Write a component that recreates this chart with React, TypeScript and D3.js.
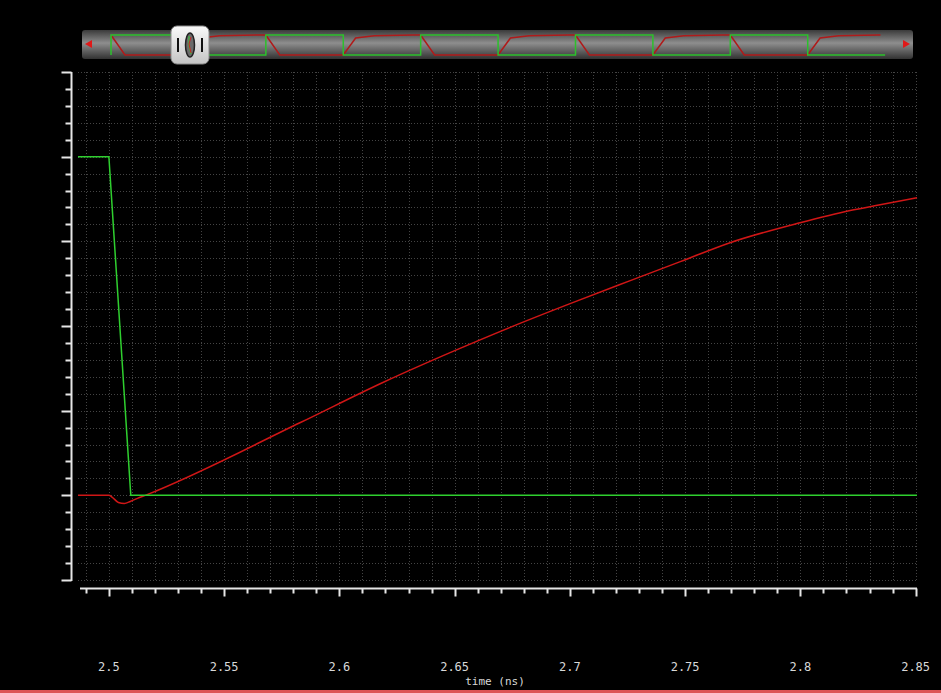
import React, { useEffect, useRef } from 'react';
import * as d3 from 'd3';

// main view, time in ns, voltage in V
const greenTime = [2.4866, 2.5, 2.5095, 2.8506];
const greenVolt = [1, 1, 0, 0];

const redTime = [2.4866, 2.5, 2.5015, 2.5041, 2.5067, 2.5093, 2.5124, 2.5158, 2.5831, 2.6191, 2.6503, 2.6741, 2.7001, 2.7262, 2.7479, 2.7695, 2.7999, 2.8216, 2.8346, 2.8506];
const redVolt = [0, 0, -0.006, -0.021, -0.024, -0.018, -0.009, 0, 0.215, 0.334, 0.428, 0.496, 0.566, 0.634, 0.69, 0.746, 0.805, 0.841, 0.858, 0.879];

const xTickLabels = ['2.5', '2.55', '2.6', '2.65', '2.7', '2.75', '2.8', '2.85'];

// overview strip at the top: green edge times (ns) and level after each edge
const ovEdges = [2.0, 2.5, 3.0, 3.5, 4.0, 4.5, 5.0, 5.5, 6.0, 6.5];
const ovLevels = [1, 0, 1, 0, 1, 0, 1, 0, 1, 0];
const ovEnd = 7.0;

const WaveView = () => {
  const chartRef = useRef<SVGSVGElement>(null);

  useEffect(() => {
    document.body.style.margin = '0';
    document.body.style.background = '#000';

    const width = 941;
    const height = 693;

    const svg = d3.select(chartRef.current)
      .attr('width', width)
      .attr('height', height);

    svg.append('rect').attr('width', width).attr('height', height).attr('fill', '#000');

    const x = d3.scaleLinear().domain([2.4866, 2.8506]).range([78, 917]);
    const y = d3.scaleLinear().domain([-0.25, 1.25]).range([580, 72]);

    // dotted grid
    const grid = svg.append('g')
      .attr('stroke', '#444')
      .attr('stroke-width', 1)
      .attr('stroke-dasharray', '1,2');

    grid.selectAll('line.v')
      .data(x.ticks(40))
      .enter()
      .append('line')
      .attr('x1', d => Math.round(x(d)) + 0.5)
      .attr('x2', d => Math.round(x(d)) + 0.5)
      .attr('y1', y(1.25))
      .attr('y2', y(-0.25));

    grid.selectAll('line.h')
      .data(y.ticks(30))
      .enter()
      .append('line')
      .attr('x1', x.range()[0])
      .attr('x2', x.range()[1])
      .attr('y1', d => Math.round(y(d)) + 0.5)
      .attr('y2', d => Math.round(y(d)) + 0.5);

    // left axis
    const axisColor = '#e6e6e6';
    const leftX = 71.5;
    svg.append('line')
      .attr('x1', leftX).attr('x2', leftX)
      .attr('y1', y(1.25)).attr('y2', y(-0.25) + 1)
      .attr('stroke', axisColor).attr('stroke-width', 2);

    const isMajorY = (v: number) => Math.abs(v / 0.25 - Math.round(v / 0.25)) < 1e-6;
    svg.append('g')
      .selectAll('line')
      .data(y.ticks(30))
      .enter()
      .append('line')
      .attr('x1', d => leftX - (isMajorY(d) ? 10 : 6))
      .attr('x2', leftX)
      .attr('y1', d => Math.round(y(d)) + 0.5)
      .attr('y2', d => Math.round(y(d)) + 0.5)
      .attr('stroke', axisColor)
      .attr('stroke-width', 2);

    // bottom axis
    const axisY = 588.5;
    svg.append('line')
      .attr('x1', 80).attr('x2', x.range()[1])
      .attr('y1', axisY).attr('y2', axisY)
      .attr('stroke', axisColor).attr('stroke-width', 2);

    const xMajor = xTickLabels.map(Number);
    const isMajorX = (v: number) => xMajor.some(m => Math.abs(m - v) < 1e-6);
    svg.append('g')
      .selectAll('line')
      .data(x.ticks(40))
      .enter()
      .append('line')
      .attr('x1', d => Math.round(x(d)) + 0.5)
      .attr('x2', d => Math.round(x(d)) + 0.5)
      .attr('y1', axisY)
      .attr('y2', d => axisY + (isMajorX(d) ? 8 : 5))
      .attr('stroke', axisColor)
      .attr('stroke-width', 2);

    svg.append('g')
      .selectAll('text')
      .data(xTickLabels)
      .enter()
      .append('text')
      .attr('x', d => x(Number(d)))
      .attr('y', 671)
      .attr('text-anchor', 'middle')
      .attr('font-family', 'DejaVu Sans Mono, monospace')
      .attr('font-size', 12)
      .attr('fill', '#d8d8d8')
      .text(d => d);

    svg.append('text')
      .attr('x', 495)
      .attr('y', 685)
      .attr('text-anchor', 'middle')
      .attr('font-family', 'DejaVu Sans Mono, monospace')
      .attr('font-size', 11)
      .attr('fill', '#d8d8d8')
      .text('time (ns)');

    // waveforms
    const line = d3.line<[number, number]>()
      .x(d => x(d[0]))
      .y(d => y(d[1]));

    svg.append('path')
      .datum(redTime.map((t, i) => [t, redVolt[i]] as [number, number]))
      .attr('d', line.curve(d3.curveMonotoneX))
      .attr('fill', 'none')
      .attr('stroke', '#d01616')
      .attr('stroke-width', 1.5);

    svg.append('path')
      .datum(greenTime.map((t, i) => [t, greenVolt[i]] as [number, number]))
      .attr('d', line.curve(d3.curveLinear))
      .attr('fill', 'none')
      .attr('stroke', '#2fcf2f')
      .attr('stroke-width', 1.5);

    // overview scroll strip
    const defs = svg.append('defs');
    const barGrad = defs.append('linearGradient')
      .attr('id', 'barGrad').attr('x1', 0).attr('x2', 0).attr('y1', 0).attr('y2', 1);
    barGrad.append('stop').attr('offset', '0%').attr('stop-color', '#3a3a3a');
    barGrad.append('stop').attr('offset', '45%').attr('stop-color', '#8e8e8e');
    barGrad.append('stop').attr('offset', '100%').attr('stop-color', '#323232');

    const thumbGrad = defs.append('linearGradient')
      .attr('id', 'thumbGrad').attr('x1', 0).attr('x2', 0).attr('y1', 0).attr('y2', 1);
    thumbGrad.append('stop').attr('offset', '0%').attr('stop-color', '#fafafa');
    thumbGrad.append('stop').attr('offset', '100%').attr('stop-color', '#c4c4c4');

    const ox = d3.scaleLinear().domain([1.8125, 7.18]).range([82, 913]);
    const oy = d3.scaleLinear().domain([0, 1]).range([55, 35]);

    svg.append('rect')
      .attr('x', 82).attr('y', 30).attr('width', 831).attr('height', 29)
      .attr('rx', 3)
      .attr('fill', 'url(#barGrad)');

    // arrows
    svg.append('path').attr('d', 'M85,44 L92,40 L92,48 Z').attr('fill', '#e01818');
    svg.append('path').attr('d', 'M910,44 L903,40 L903,48 Z').attr('fill', '#e01818');

    const ovLine = d3.line<[number, number]>().x(d => ox(d[0])).y(d => oy(d[1]));

    const greenPts: [number, number][] = [];
    ovEdges.forEach((e, i) => {
      greenPts.push([e, 1 - ovLevels[i]]);
      greenPts.push([e, ovLevels[i]]);
    });
    greenPts.push([ovEnd, ovLevels[ovLevels.length - 1]]);

    const redPts: [number, number][] = [];
    ovEdges.forEach((e, i) => {
      if (ovLevels[i] === 1) {
        redPts.push([e, 1], [e + 0.09, 0]);
      } else {
        redPts.push([e, 0], [e + 0.08, 0.85], [e + 0.2, 0.96], [e + 0.45, 1]);
      }
    });
    redPts.push([ovEnd - 0.03, 1]);

    svg.append('path')
      .datum(redPts)
      .attr('d', ovLine)
      .attr('fill', 'none')
      .attr('stroke', '#b01a1a')
      .attr('stroke-width', 1.5);

    svg.append('path')
      .datum(greenPts)
      .attr('d', ovLine)
      .attr('fill', 'none')
      .attr('stroke', '#2cc02c')
      .attr('stroke-width', 1.5);

    // thumb
    const thumb = svg.append('g');
    thumb.append('rect')
      .attr('x', 171).attr('y', 26).attr('width', 38).attr('height', 38)
      .attr('rx', 6)
      .attr('fill', 'url(#thumbGrad)')
      .attr('stroke', '#8a8a8a');
    thumb.append('rect').attr('x', 177).attr('y', 38).attr('width', 2).attr('height', 14).attr('fill', '#111');
    thumb.append('rect').attr('x', 201).attr('y', 38).attr('width', 2).attr('height', 14).attr('fill', '#111');
    thumb.append('ellipse')
      .attr('cx', 190).attr('cy', 45).attr('rx', 4.5).attr('ry', 12)
      .attr('fill', '#6a6a6a').attr('stroke', '#222').attr('stroke-width', 1.5);
    thumb.append('path').attr('d', 'M189,36 L189,46 L191,54').attr('fill', 'none').attr('stroke', '#3c3').attr('stroke-width', 1);
    thumb.append('path').attr('d', 'M191,37 L189,44 L191,53').attr('fill', 'none').attr('stroke', '#c22').attr('stroke-width', 1);

    // bottom border
    svg.append('rect')
      .attr('x', 0).attr('y', 690).attr('width', width).attr('height', 3)
      .attr('fill', '#dd5555');

    return () => {
      d3.select(chartRef.current).selectAll('*').remove();
    };
  }, []);

  return <svg ref={chartRef} style={{ display: 'block' }}></svg>;
};

export default function App() {
  return <WaveView />;
}
